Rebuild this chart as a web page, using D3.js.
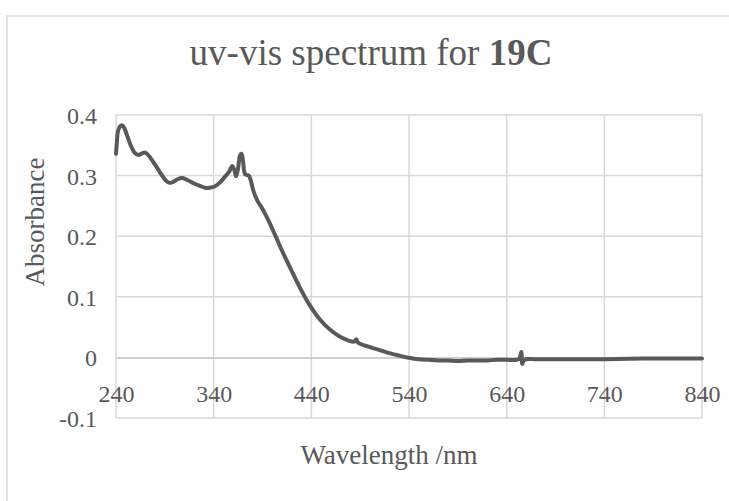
<!DOCTYPE html>
<html>
<head>
<meta charset="utf-8">
<script src="https://cdn.jsdelivr.net/npm/d3@7"></script>
<style>
  html, body { margin: 0; padding: 0; background: #fff; }
  svg { display: block; }
  text { font-family: "Liberation Serif", "Times New Roman", serif; fill: #595959; }
</style>
</head>
<body>
<svg id="chart" width="729" height="501"></svg>
<script>
const titleText = "uv-vis spectrum for ";
const titleBold = "19C";
const xLabel = "Wavelength /nm";
const yLabel = "Absorbance";
const xTicks = [240, 340, 440, 540, 640, 740, 840];
const yTicks = [-0.1, 0, 0.1, 0.2, 0.3, 0.4];

const wavelength = [240, 241, 242, 244, 246, 248, 251, 255, 259, 263, 267, 270, 274, 280, 286, 291, 295, 299, 303, 308,
  314, 320, 326, 331, 336, 341, 346, 351, 356, 359, 361, 363, 365, 367, 368.5, 370, 372, 374, 376, 378,
  381, 385, 390, 397, 404, 410, 418, 428, 438, 449, 459, 472, 484, 486, 488, 500, 510, 520, 530, 541,
  550, 560, 570, 580, 590, 600, 610, 620, 630, 640, 650, 653, 655, 656, 658, 670, 700, 740, 780, 840];
const absorbance = [0.336, 0.357, 0.373, 0.381, 0.383, 0.380, 0.368, 0.350, 0.338, 0.334, 0.337, 0.338, 0.332, 0.318, 0.303, 0.292, 0.288, 0.290, 0.294, 0.296,
  0.292, 0.287, 0.283, 0.280, 0.280, 0.282, 0.288, 0.297, 0.307, 0.316, 0.310, 0.299, 0.312, 0.333, 0.336, 0.325, 0.303, 0.301, 0.300, 0.292,
  0.273, 0.258, 0.245, 0.223, 0.198, 0.176, 0.149, 0.116, 0.087, 0.062, 0.046, 0.032, 0.026, 0.030, 0.024, 0.017, 0.012, 0.007, 0.003, -0.001,
  -0.003, -0.004, -0.005, -0.005, -0.006, -0.005, -0.005, -0.005, -0.004, -0.004, -0.004, -0.002, 0.009, -0.011, -0.004, -0.003, -0.003, -0.003, -0.002, -0.002];

const svg = d3.select("#chart");
const plot = { left: 116, right: 702, top: 115, bottom: 418 };

// outer chart border (extends beyond view)
svg.append("rect").attr("x", 7).attr("y", 16).attr("width", 740).attr("height", 520)
  .attr("fill", "#fff").attr("stroke", "#d9d9d9").attr("stroke-width", 1.5);

const x = d3.scaleLinear().domain([240, 840]).range([plot.left, plot.right]);
const y = d3.scaleLinear().domain([-0.1, 0.4]).range([plot.bottom, plot.top]);

// gridlines
const grid = svg.append("g").attr("stroke", "#d9d9d9").attr("stroke-width", 1.5);
grid.selectAll("line.h").data(yTicks.filter(d => d !== 0)).join("line")
  .attr("x1", plot.left).attr("x2", plot.right)
  .attr("y1", d => y(d)).attr("y2", d => y(d));
grid.selectAll("line.v").data(xTicks).join("line")
  .attr("x1", d => x(d)).attr("x2", d => x(d))
  .attr("y1", plot.top).attr("y2", plot.bottom);

// y axis labels
const yAxis = d3.axisLeft(y).tickValues(yTicks).tickSize(0).tickPadding(0)
  .tickFormat(d => d === 0 ? "0" : d3.format(".1f")(d).replace("−", "-"));
const gy = svg.append("g").attr("transform", `translate(${plot.left - 19},0)`).call(yAxis);
gy.select(".domain").remove();
gy.selectAll("text").attr("font-size", 24).attr("font-family", "Liberation Serif").attr("fill", "#595959").attr("dy", "0.35em");

// x axis at zero
const xAxis = d3.axisBottom(x).tickValues(xTicks).tickSize(0).tickPadding(0).tickFormat(d3.format("d"));
const gx = svg.append("g").attr("transform", `translate(0,${y(0)})`).call(xAxis);
gx.select(".domain").attr("stroke", "#bfbfbf").attr("stroke-width", 1.5);
gx.selectAll("text").attr("font-size", 24).attr("font-family", "Liberation Serif").attr("fill", "#595959").attr("dy", "1.85em");

// data line
const data = wavelength.map((w, i) => ({ w, a: absorbance[i] }));
const line = d3.line().x(d => x(d.w)).y(d => y(d.a)).curve(d3.curveCatmullRom.alpha(0.5));
svg.append("path").datum(data).attr("d", line)
  .attr("fill", "none").attr("stroke", "#595959").attr("stroke-width", 4)
  .attr("stroke-linejoin", "round").attr("stroke-linecap", "round");

// title
const t = svg.append("text").attr("x", 371).attr("y", 65).attr("text-anchor", "middle").attr("font-size", 37);
t.append("tspan").text(titleText);
t.append("tspan").attr("font-weight", "bold").text(titleBold);

// axis titles
svg.append("text").attr("x", 389).attr("y", 464).attr("text-anchor", "middle").attr("font-size", 27).text(xLabel);
svg.append("text").attr("transform", `translate(44,222) rotate(-90)`).attr("text-anchor", "middle").attr("font-size", 27).text(yLabel);
</script>
</body>
</html>
